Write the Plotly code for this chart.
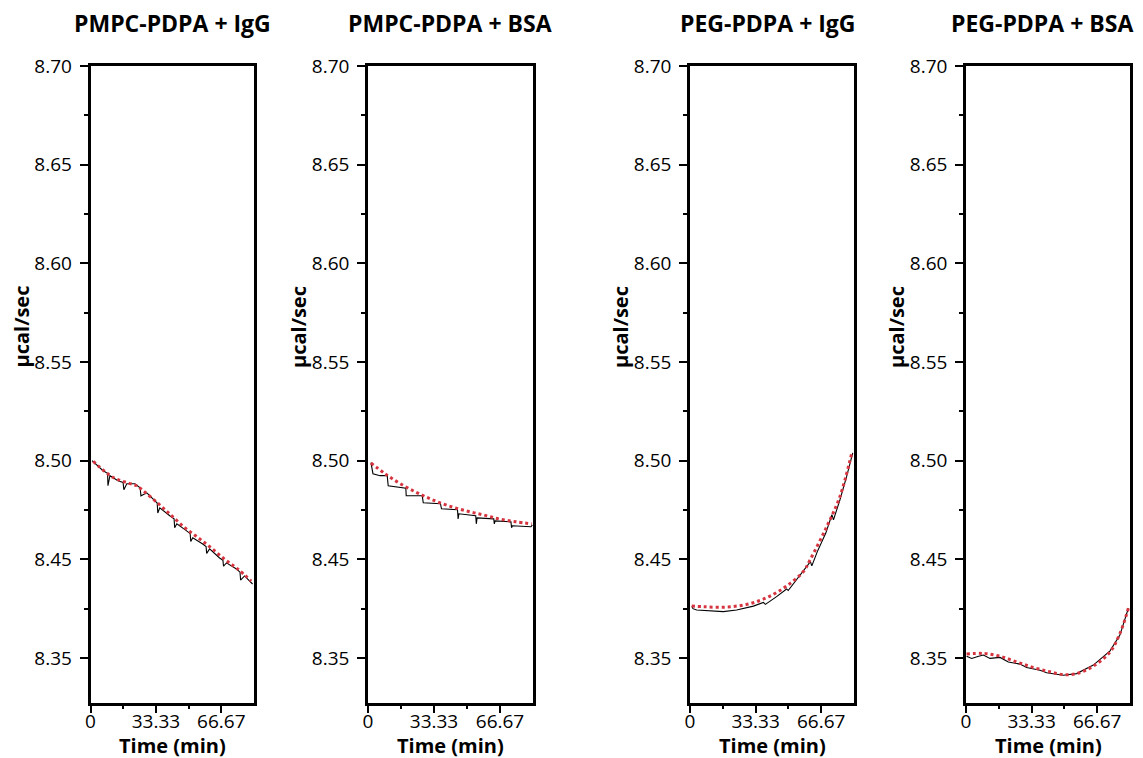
import plotly.graph_objects as go

# ---------------- data (time in min, heat flow in µcal/sec) ----------------
titles = ["PMPC-PDPA + IgG", "PMPC-PDPA + BSA", "PEG-PDPA + IgG", "PEG-PDPA + BSA"]

p1_raw_t = [0.8, 3.3, 6.4, 8.7, 8.9, 9.9, 14.0, 16.6, 17.0, 18.5, 22.6, 25.3, 25.7, 28.7, 32.8, 34.0, 34.3,
            35.3, 40.4, 42.6, 42.9, 44.0, 49.0, 50.8, 51.1, 52.1, 57.2, 58.9, 59.2, 60.7, 65.8, 67.5, 67.8,
            69.3, 74.4, 76.2, 76.5, 78.5, 82.6]
p1_raw_v = [8.5000, 8.4975, 8.4949, 8.4936, 8.4873, 8.4924, 8.4898, 8.4890, 8.4853, 8.4883, 8.4883, 8.4862,
            8.4822, 8.4837, 8.4797, 8.4785, 8.4735, 8.4761, 8.4721, 8.4705, 8.4660, 8.4680, 8.4644, 8.4630,
            8.4590, 8.4609, 8.4578, 8.4565, 8.4530, 8.4553, 8.4507, 8.4495, 8.4465, 8.4482, 8.4451, 8.4435,
            8.4395, 8.4416, 8.4375]
p1_fit_t = [1.4, 11.6, 19.2, 23.5, 26.8, 34.5, 41.3, 48.0, 54.8, 61.6, 68.3, 75.1, 81.9]
p1_fit_v = [8.4996, 8.4915, 8.4887, 8.4873, 8.4848, 8.4783, 8.4721, 8.4661, 8.4610, 8.4557, 8.4501, 8.4450, 8.4390]

p2_raw_t = [1.5, 2.5, 6.1, 9.7, 10.2, 17.8, 19.1, 19.3, 27.4, 27.9, 36.6, 37.1, 45.2, 45.5, 45.9, 54.4, 54.7,
            55.1, 63.5, 63.8, 64.2, 72.2, 72.5, 72.9, 82.3, 83.0]
p2_raw_v = [8.4990, 8.4934, 8.4924, 8.4924, 8.4873, 8.4863, 8.4860, 8.4822, 8.4822, 8.4787, 8.4782, 8.4756,
            8.4751, 8.4705, 8.4731, 8.4721, 8.4680, 8.4710, 8.4705, 8.4680, 8.4695, 8.4690, 8.4660, 8.4670,
            8.4665, 8.4675]
p2_fit_t = [1.5, 8.6, 16.3, 24.9, 32.5, 40.7, 49.3, 57.9, 66.1, 74.7, 82.8]
p2_fit_v = [8.4988, 8.4934, 8.4883, 8.4837, 8.4802, 8.4771, 8.4746, 8.4726, 8.4705, 8.4690, 8.4680]

p3_raw_t = [0.9, 1.5, 3.4, 10.2, 16.9, 23.7, 27.0, 32.2, 37.3, 38.3, 44.0, 49.1, 49.9, 54.2, 61.2, 61.9, 64.7,
            69.0, 72.1, 72.9, 76.2, 79.6, 82.7]
p3_raw_v = [8.4262, 8.4250, 8.4243, 8.4240, 8.4235, 8.4243, 8.4252, 8.4263, 8.4282, 8.4272, 8.4311, 8.4350,
            8.4342, 8.4396, 8.4488, 8.4467, 8.4539, 8.4633, 8.4726, 8.4700, 8.4802, 8.4920, 8.5039]
p3_fit_t = [0.9, 6.8, 15.2, 23.7, 32.2, 40.7, 49.1, 57.6, 61.0, 69.5, 76.2, 82.2]
p3_fit_v = [8.4263, 8.4260, 8.4257, 8.4263, 8.4280, 8.4314, 8.4365, 8.4438, 8.4497, 8.4666, 8.4819, 8.5039]

p4_raw_t = [0.3, 2.9, 6.0, 8.8, 12.2, 17.3, 21.5, 27.4, 30.8, 37.6, 41.0, 49.4, 56.2, 64.7, 73.2, 78.2, 82.5]
p4_raw_v = [8.4009, 8.3998, 8.4008, 8.4015, 8.3998, 8.4003, 8.3980, 8.3969, 8.3952, 8.3938, 8.3925, 8.3913,
            8.3921, 8.3964, 8.4036, 8.4116, 8.4252]
p4_fit_t = [0.3, 8.8, 17.3, 25.8, 34.2, 42.7, 49.4, 56.2, 64.7, 73.2, 78.2, 82.5]
p4_fit_v = [8.4020, 8.4023, 8.4009, 8.3980, 8.3952, 8.3930, 8.3916, 8.3921, 8.3959, 8.4031, 8.4124, 8.4252]

raw_t = [p1_raw_t, p2_raw_t, p3_raw_t, p4_raw_t]
raw_v = [p1_raw_v, p2_raw_v, p3_raw_v, p4_raw_v]
fit_t = [p1_fit_t, p2_fit_t, p3_fit_t, p4_fit_t]
fit_v = [p1_fit_v, p2_fit_v, p3_fit_v, p4_fit_v]

x_tickvals = [0, 33.33, 66.67]
x_ticktext = ["0", "33.33", "66.67"]
x_minor = [16.67, 50]
y_tickvals = [8.40, 8.45, 8.50, 8.55, 8.60, 8.65, 8.70]
y_ticktext = ["8.35", "8.45", "8.50", "8.55", "8.60", "8.65", "8.70"]
y_minor = [8.425, 8.475, 8.525, 8.575, 8.625, 8.675]
x_range = [0, 83.33]
y_range = [8.3772, 8.70]

# ---------------- layout ----------------
PAGE_W, PAGE_H = 1143, 758
OFF = 8                       # page body margin in the browser
W, H = PAGE_W - OFF, PAGE_H - OFF
panel_px = [(90.5, 254), (368, 533), (690, 854), (966, 1130)]
title_cx = [172, 450, 768, 1042]
top_px, bot_px = 66, 703
FONT = "Open Sans"


def px(x):
    return (x - OFF) / W


def py(y):
    return 1 - (y - OFF) / H


fig = go.Figure()
layout = dict(width=W, height=H, margin=dict(l=0, r=0, t=0, b=0, pad=0), autosize=False,
              template="none",
              paper_bgcolor="white", plot_bgcolor="white", showlegend=False,
              font=dict(family=FONT, color="black"))
annotations = []

for i in range(4):
    k = "" if i == 0 else str(i + 1)
    x0, x1 = panel_px[i]
    fig.add_trace(go.Scatter(x=raw_t[i], y=raw_v[i], mode="lines",
                             line=dict(color="black", width=1.1),
                             xaxis="x" + k, yaxis="y" + k))
    fig.add_trace(go.Scatter(x=fit_t[i], y=fit_v[i], mode="lines",
                             line=dict(color="#d6343f", width=3, dash="dot", shape="spline"),
                             xaxis="x" + k, yaxis="y" + k))
    layout["xaxis" + k] = dict(
        domain=[px(x0), px(x1)], anchor="y" + k, range=x_range, automargin=False,
        showline=True, linewidth=2.5, linecolor="black", mirror=True,
        showgrid=False, zeroline=False,
        tickmode="array", tickvals=x_tickvals, ticktext=x_ticktext,
        ticks="outside", ticklen=7, tickwidth=2, tickcolor="black",
        ticklabelstandoff=-8,
        tickfont=dict(size=19, family=FONT, color="black"),
        minor=dict(tickmode="array", tickvals=x_minor, ticks="outside", ticklen=3,
                   tickwidth=2, tickcolor="black", showgrid=False),
    )
    layout["yaxis" + k] = dict(
        domain=[py(bot_px), py(top_px)], anchor="x" + k, range=y_range, automargin=False,
        showline=True, linewidth=2.5, linecolor="black", mirror=True,
        showgrid=False, zeroline=False,
        tickmode="array", tickvals=y_tickvals, ticktext=y_ticktext,
        ticks="outside", ticklen=8, tickwidth=2, tickcolor="black",
        ticklabelstandoff=4,
        tickfont=dict(size=19, family=FONT, color="black"),
        minor=dict(tickmode="array", tickvals=y_minor, ticks="outside", ticklen=4,
                   tickwidth=2, tickcolor="black", showgrid=False),
    )
    cx = (x0 + x1) / 2
    annotations.append(dict(text="<b>" + titles[i] + "</b>", x=px(title_cx[i]), y=py(23),
                            xref="paper", yref="paper", showarrow=False,
                            xanchor="center", yanchor="middle",
                            font=dict(size=23, family=FONT, color="black")))
    annotations.append(dict(text="<b>Time (min)</b>", x=px(cx), y=py(745),
                            xref="paper", yref="paper", showarrow=False,
                            xanchor="center", yanchor="middle",
                            font=dict(size=20, family=FONT, color="black")))
    annotations.append(dict(text="<b>µcal/sec</b>", x=px(x0 - 70), y=py(327),
                            xref="paper", yref="paper", showarrow=False, textangle=-90,
                            xanchor="center", yanchor="middle",
                            font=dict(size=20, family=FONT, color="black")))

layout["annotations"] = annotations
fig.update_layout(**layout)
fig.write_html("out.html")
